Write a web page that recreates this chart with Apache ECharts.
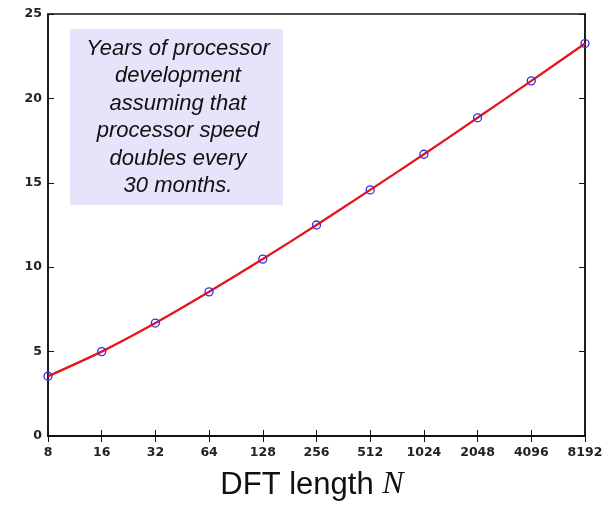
<!DOCTYPE html>
<html><head><meta charset="utf-8">
<script src="https://cdn.jsdelivr.net/npm/echarts@6/dist/echarts.min.js"></script>
<style>html,body{margin:0;padding:0;background:#fff}#c{width:615px;height:505px}</style>
</head><body><div id="c"></div>
<script>
const categories = ['8','16','32','64','128','256','512','1024','2048','4096','8192'];
const years = [3.54, 5.0, 6.69, 8.54, 10.48, 12.5, 14.58, 16.69, 18.85, 21.04, 23.25];
const yTicks = [0, 5, 10, 15, 20, 25];
const noteLines = ['Years of processor','development','assuming that','processor speed','doubles every','30 months.'];

const chart = echarts.init(document.getElementById('c'));
const axisLineStyle = {color:'#111', width:1.5};
const labelFont = {color:'#222', fontSize:12.5, fontWeight:'bold', fontFamily:'DejaVu Sans, sans-serif'};
chart.setOption({
  animation:false,
  backgroundColor:'#fff',
  grid:{left:48, top:14, width:537, height:422, show:true, borderColor:'#111', borderWidth:1.5},
  xAxis:[{
    type:'category', data:categories, boundaryGap:false,
    axisLine:{lineStyle:axisLineStyle},
    axisTick:{inside:true, length:6, interval:0, lineStyle:{color:'#111'}},
    axisLabel:Object.assign({interval:0, margin:10}, labelFont),
    splitLine:{show:false}
  },{
    type:'category', data:categories, boundaryGap:false, position:'top',
    axisLine:{lineStyle:axisLineStyle},
    axisTick:{inside:true, length:6, interval:0, lineStyle:{color:'#111'}},
    axisLabel:{show:false}, splitLine:{show:false}
  }],
  yAxis:[{
    type:'value', min:yTicks[0], max:yTicks[yTicks.length-1], interval:5,
    axisLine:{show:true, lineStyle:axisLineStyle},
    axisTick:{show:true, inside:true, length:6, lineStyle:{color:'#111'}},
    axisLabel:Object.assign({margin:6}, labelFont),
    splitLine:{show:false}
  },{
    type:'value', min:yTicks[0], max:yTicks[yTicks.length-1], interval:5, position:'right',
    axisLine:{show:true, lineStyle:axisLineStyle},
    axisTick:{show:true, inside:true, length:6, lineStyle:{color:'#111'}},
    axisLabel:{show:false}, splitLine:{show:false}
  }],
  series:[{
    type:'line', data:years, smooth:0.25,
    lineStyle:{color:'#e8141c', width:2.3},
    symbol:'circle', symbolSize:8,
    itemStyle:{color:'rgba(0,0,0,0)', borderColor:'#3a2be0', borderWidth:1.3},
    z:3
  }],
  graphic:[
    {type:'rect', x:70, y:29, shape:{width:213, height:176}, style:{fill:'#e6e4fb'}, z:10},
    {type:'text', x:178, y:35, z:11, style:{
      text:noteLines.join('\n'), fill:'#111', font:'italic 22px "Liberation Sans", Arial, sans-serif',
      align:'center', verticalAlign:'top', lineHeight:27.5}},
    {type:'text', x:312, y:485, z:11, style:{
      rich:{a:{fontSize:31, fontFamily:'Liberation Sans, Arial, sans-serif', fill:'#111'}, b:{fontSize:32, fontStyle:'italic', fontFamily:'Liberation Serif, Times New Roman, serif', fill:'#111'}},
      text:'{a|DFT length }{b|N}', align:'center', verticalAlign:'middle'}}
  ]
});
</script></body></html>
